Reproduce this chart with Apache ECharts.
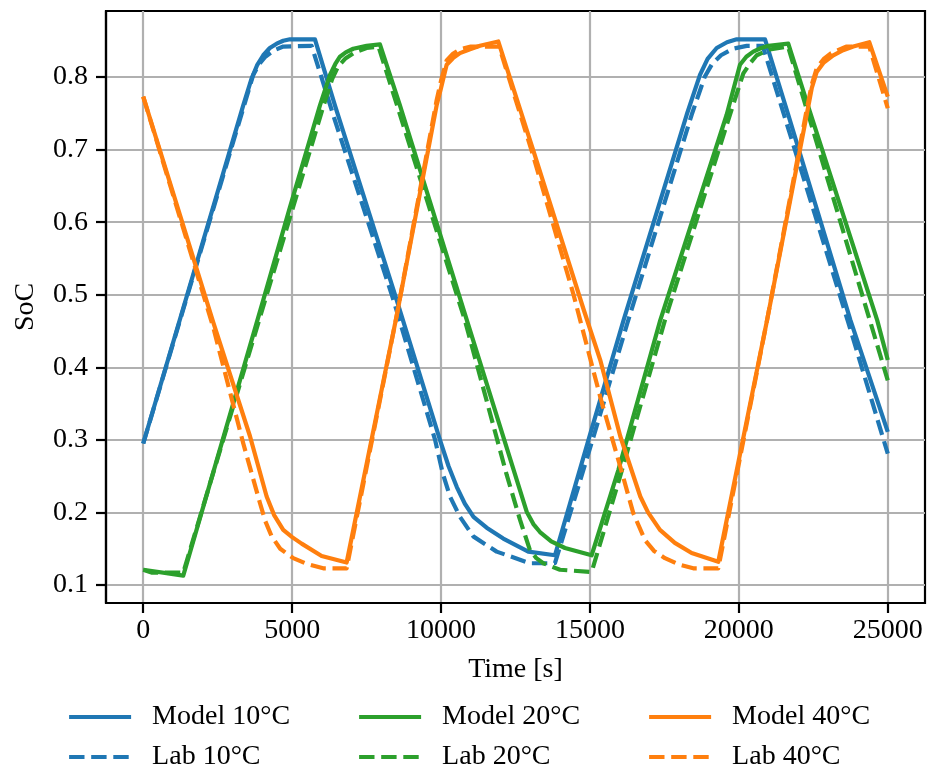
<!DOCTYPE html>
<html>
<head>
<meta charset="utf-8">
<script src="https://cdn.jsdelivr.net/npm/echarts@6/dist/echarts.min.js"></script>
<style>
  html, body { margin: 0; padding: 0; background: #fff; }
  #chart { width: 928px; height: 774px; }
</style>
</head>
<body>
<div id="chart"></div>
<script>
// ---- Data (time in s, SoC) ----
const xTicks = [0, 5000, 10000, 15000, 20000, 25000];
const yTicks = [0.1, 0.2, 0.3, 0.4, 0.5, 0.6, 0.7, 0.8];

const model10T = [0, 3358, 3640, 3820, 4030, 4250, 4480, 4700, 4926, 5766, 6437, 8509, 9963, 10250, 10530, 10800, 11090, 11531, 12089, 12929, 13825, 15000, 16130, 18248, 18694, 18950, 19255, 19600, 19927, 20878, 21659, 23746, 25000];
const model10V = [0.295, 0.761, 0.798, 0.816, 0.830, 0.840, 0.846, 0.850, 0.852, 0.852, 0.761, 0.493, 0.300, 0.264, 0.235, 0.212, 0.194, 0.179, 0.164, 0.146, 0.141, 0.307, 0.465, 0.748, 0.803, 0.825, 0.840, 0.848, 0.852, 0.852, 0.748, 0.465, 0.311];

const lab10T = [0, 3694, 3900, 4100, 4400, 4701, 5655, 6400, 8400, 9800, 10050, 10300, 10635, 11082, 11867, 12986, 13825, 15050, 16250, 18415, 18850, 19100, 19400, 19800, 20262, 20800, 23650, 25000];
const lab10V = [0.295, 0.803, 0.818, 0.828, 0.837, 0.842, 0.843, 0.745, 0.493, 0.300, 0.255, 0.222, 0.194, 0.167, 0.146, 0.130, 0.130, 0.295, 0.460, 0.748, 0.800, 0.818, 0.830, 0.839, 0.843, 0.843, 0.465, 0.281];

const model20T = [0, 1344, 4032, 4930, 5934, 6270, 6450, 6605, 6800, 7052, 7500, 7948, 8620, 10866, 12875, 13100, 13321, 13700, 14161, 15057, 15951, 17362, 19590, 20037, 20250, 20484, 20750, 21000, 21659, 22387, 24644, 25000];
const model20V = [0.121, 0.113, 0.493, 0.621, 0.761, 0.803, 0.818, 0.828, 0.834, 0.839, 0.843, 0.845, 0.761, 0.465, 0.201, 0.184, 0.173, 0.160, 0.151, 0.141, 0.258, 0.465, 0.748, 0.817, 0.828, 0.835, 0.840, 0.843, 0.846, 0.752, 0.465, 0.410];

const lab20T = [0, 300, 1344, 6050, 6350, 6550, 6800, 7100, 7500, 7900, 10800, 12203, 12650, 12986, 13200, 13432, 13993, 15057, 16008, 17518, 19700, 20150, 20400, 20600, 21040, 21650, 25000];
const lab20V = [0.121, 0.117, 0.117, 0.760, 0.798, 0.815, 0.826, 0.834, 0.840, 0.842, 0.465, 0.252, 0.190, 0.148, 0.137, 0.130, 0.121, 0.118, 0.249, 0.465, 0.748, 0.805, 0.820, 0.830, 0.838, 0.842, 0.382];

const model40T = [0, 2352, 3585, 4144, 4400, 4701, 5000, 5319, 5991, 6830, 8514, 9852, 10000, 10188, 10400, 10635, 10950, 11307, 11921, 13105, 14785, 15346, 16018, 16690, 16950, 17350, 17850, 18415, 19309, 20947, 22278, 22450, 22614, 22850, 23170, 23500, 23842, 24379, 25000];
const model40V = [0.773, 0.462, 0.305, 0.222, 0.196, 0.176, 0.166, 0.157, 0.140, 0.131, 0.472, 0.761, 0.785, 0.817, 0.826, 0.833, 0.838, 0.843, 0.849, 0.698, 0.480, 0.410, 0.305, 0.222, 0.200, 0.176, 0.158, 0.144, 0.132, 0.465, 0.748, 0.785, 0.807, 0.820, 0.830, 0.837, 0.842, 0.848, 0.773];

const lab40T = [0, 2352, 3360, 3919, 4100, 4312, 4600, 5037, 5500, 6044, 6830, 8514, 9852, 10000, 10188, 10400, 10635, 11000, 11950, 13105, 14449, 15346, 16018, 16455, 16847, 17150, 17518, 18000, 18469, 19309, 20947, 22278, 22450, 22614, 22850, 23100, 23600, 24379, 25000];
const lab40V = [0.773, 0.455, 0.295, 0.213, 0.188, 0.167, 0.150, 0.137, 0.129, 0.123, 0.123, 0.472, 0.768, 0.795, 0.823, 0.832, 0.838, 0.842, 0.842, 0.690, 0.500, 0.359, 0.263, 0.199, 0.162, 0.147, 0.137, 0.128, 0.123, 0.123, 0.465, 0.755, 0.790, 0.812, 0.825, 0.833, 0.842, 0.842, 0.757];

const seriesNames = ['Model 10°C', 'Lab 10°C', 'Model 20°C', 'Lab 20°C', 'Model 40°C', 'Lab 40°C'];

// ---- Styling ----
const FONT = 'Liberation Serif';
const BLUE = '#1f77b4', GREEN = '#2ca02c', ORANGE = '#ff7f0e';
const DASH = [15.4, 6.7];
const LW = 4.2;

function zip(t, v) { return t.map((x, i) => [x, v[i]]); }

const seriesDefs = [
  { name: seriesNames[0], t: model10T, v: model10V, color: BLUE, dashed: false },
  { name: seriesNames[1], t: lab10T, v: lab10V, color: BLUE, dashed: true },
  { name: seriesNames[2], t: model20T, v: model20V, color: GREEN, dashed: false },
  { name: seriesNames[3], t: lab20T, v: lab20V, color: GREEN, dashed: true },
  { name: seriesNames[4], t: model40T, v: model40V, color: ORANGE, dashed: false },
  { name: seriesNames[5], t: lab40T, v: lab40V, color: ORANGE, dashed: true }
];

const series = seriesDefs.map(d => ({
  name: d.name,
  type: 'line',
  data: zip(d.t, d.v),
  symbol: 'none',
  showSymbol: false,
  clip: true,
  color: d.color,
  itemStyle: { color: d.color },
  lineStyle: { color: d.color, width: LW, type: d.dashed ? DASH : 'solid', cap: 'butt', join: 'round' },
  emphasis: { disabled: true },
  animation: false
}));

const legendCols = [67, 357, 647];
const legendRows = [703, 743];
const legends = seriesDefs.map((d, i) => ({
  data: [d.name],
  left: legendCols[Math.floor(i / 2)],
  top: legendRows[i % 2],
  padding: 0,
  itemWidth: 62,
  itemHeight: 14,
  selectedMode: false,
  itemStyle: { opacity: 0 },
  lineStyle: { color: d.color, width: LW, type: d.dashed ? DASH : 'solid', cap: 'butt', opacity: 1 },
  textStyle: { fontFamily: FONT, fontSize: 28, color: '#000', padding: [0, 0, 0, 16] }
}));

const axisFont = { fontFamily: FONT, fontSize: 28, color: '#000' };

const option = {
  animation: false,
  backgroundColor: '#fff',
  grid: { left: 106, right: 3, top: 11, bottom: 171, show: true, borderColor: '#000', borderWidth: 2.2, backgroundColor: 'transparent' },
  legend: legends,
  xAxis: {
    type: 'value', min: -1250, max: 26250,
    name: 'Time [s]', nameLocation: 'middle', nameGap: 53,
    nameTextStyle: axisFont,
    axisLine: { show: true, onZero: false, lineStyle: { color: '#000', width: 2.2 } },
    axisTick: { show: true, customValues: xTicks, length: 10, lineStyle: { color: '#000', width: 2.2 } },
    axisLabel: Object.assign({ customValues: xTicks, margin: 14, formatter: v => String(v) }, axisFont),
    splitLine: { show: true, lineStyle: { color: '#b0b0b0', width: 2.2 } }
  },
  yAxis: {
    type: 'value', min: 0.0752, max: 0.891,
    name: 'SoC', nameLocation: 'middle', nameGap: 66, nameRotate: 90,
    nameTextStyle: axisFont,
    axisLine: { show: true, onZero: false, lineStyle: { color: '#000', width: 2.2 } },
    axisTick: { show: true, customValues: yTicks, length: 10, lineStyle: { color: '#000', width: 2.2 } },
    axisLabel: Object.assign({ customValues: yTicks, margin: 18, formatter: v => v.toFixed(1) }, axisFont),
    splitLine: { show: true, lineStyle: { color: '#b0b0b0', width: 2.2 } }
  },
  series: series
};

const chart = echarts.init(document.getElementById('chart'), null, { renderer: 'canvas' });
chart.setOption(option);
</script>
</body>
</html>
